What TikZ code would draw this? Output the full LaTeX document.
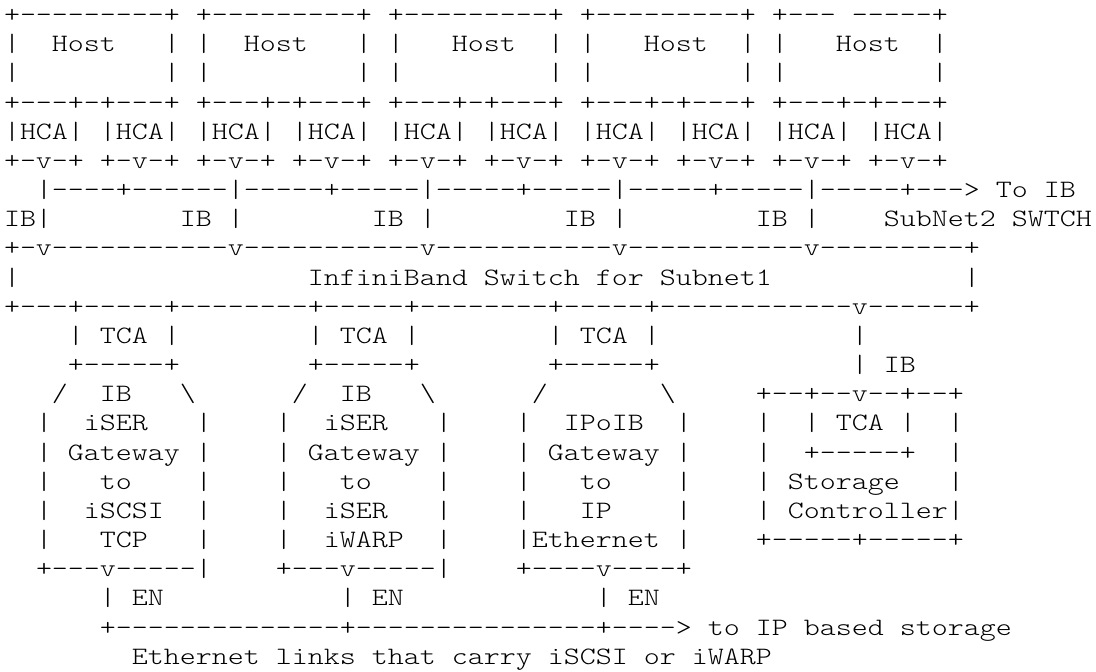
\documentclass[tikz,border=0pt]{standalone}
\usepackage{fontspec}
\newfontfamily\asciifont{lmmonolt10-regular.otf}[Ligatures=TeXOff,FakeStretch=1.219]

\begin{document}
\begin{tikzpicture}[x=0.5pt,y=-0.5pt,
    asciirow/.style={anchor=base west, inner sep=0pt, outer sep=0pt,
      font=\asciifont\fontsize{12.5}{15}\selectfont}]
    \fill[white] (0,0) rectangle (1096,671);
    \useasboundingbox (0,0) rectangle (1096,671);
    % hosts with two HCAs each
    \node[asciirow] (hosttop) at (4,22.5) {+---------+~+---------+~+---------+~+---------+~+---~-----+};
    \node[asciirow] (hostname) at (4,51.67) {|~~Host~~~|~|~~Host~~~|~|~~~Host~~|~|~~~Host~~|~|~~~Host~~|};
    \node[asciirow] (hostbody) at (4,80.84) {|~~~~~~~~~|~|~~~~~~~~~|~|~~~~~~~~~|~|~~~~~~~~~|~|~~~~~~~~~|};
    \node[asciirow] (hostbottom) at (4,110.01) {+---+-+---+~+---+-+---+~+---+-+---+~+---+-+---+~+---+-+---+};
    \node[asciirow] (hca) at (4,139.18) {|HCA|~|HCA|~|HCA|~|HCA|~|HCA|~|HCA|~|HCA|~|HCA|~|HCA|~|HCA|};
    \node[asciirow] (hcaport) at (4,168.35) {+-v-+~+-v-+~+-v-+~+-v-+~+-v-+~+-v-+~+-v-+~+-v-+~+-v-+~+-v-+};
    % IB links to the switch
    \node[asciirow] (iblink) at (4,197.52) {~~|----+------|-----+-----|-----+-----|-----+-----|-----+--->~To~IB};
    \node[asciirow] (iblabel) at (4,226.69) {IB|~~~~~~~~IB~|~~~~~~~~IB~|~~~~~~~~IB~|~~~~~~~~IB~|~~~~SubNet2~SWTCH};
    \node[asciirow] (switchtop) at (4,255.86) {+-v-----------v-----------v-----------v-----------v---------+};
    \node[asciirow] (switch) at (4,285.03) {|~~~~~~~~~~~~~~~~~~InfiniBand~Switch~for~Subnet1~~~~~~~~~~~~|};
    \node[asciirow] (switchbottom) at (4,314.2) {+---+-----+--------+-----+--------+-----+------------v------+};
    % gateways and storage controller
    \node[asciirow] (tca) at (4,343.37) {~~~~|~TCA~|~~~~~~~~|~TCA~|~~~~~~~~|~TCA~|~~~~~~~~~~~~|};
    \node[asciirow] (tcabottom) at (4,372.54) {~~~~+-----+~~~~~~~~+-----+~~~~~~~~+-----+~~~~~~~~~~~~|~IB};
    \node[asciirow] (gwtop) at (4,401.71) {~~~/~~IB~~~\textbackslash~~~~~~/~~IB~~~\textbackslash~~~~~~/~~~~~~~\textbackslash~~~~~+--+--v--+--+};
    \node[asciirow] (gwa) at (4,430.88) {~~|~~iSER~~~|~~~~|~~iSER~~~|~~~~|~~IPoIB~~|~~~~|~~|~TCA~|~~|};
    \node[asciirow] (gwb) at (4,460.05) {~~|~Gateway~|~~~~|~Gateway~|~~~~|~Gateway~|~~~~|~~+-----+~~|};
    \node[asciirow] (gwc) at (4,489.22) {~~|~~~to~~~~|~~~~|~~~to~~~~|~~~~|~~~to~~~~|~~~~|~Storage~~~|};
    \node[asciirow] (gwd) at (4,518.39) {~~|~~iSCSI~~|~~~~|~~iSER~~~|~~~~|~~~IP~~~~|~~~~|~Controller|};
    \node[asciirow] (gwe) at (4,547.56) {~~|~~~TCP~~~|~~~~|~~iWARP~~|~~~~|Ethernet~|~~~~+-----+-----+};
    \node[asciirow] (gwbottom) at (4,576.73) {~~+---v-----|~~~~+---v-----|~~~~+----v----+};
    % Ethernet side
    \node[asciirow] (en) at (4,605.9) {~~~~~~|~EN~~~~~~~~~~~|~EN~~~~~~~~~~~~|~EN};
    \node[asciirow] (ethlink) at (4,635.07) {~~~~~~+--------------+---------------+---->~to~IP~based~storage};
    \node[asciirow] (ethnote) at (4,664.24) {~~~~~~~~Ethernet~links~that~carry~iSCSI~or~iWARP};
\end{tikzpicture}
\end{document}
